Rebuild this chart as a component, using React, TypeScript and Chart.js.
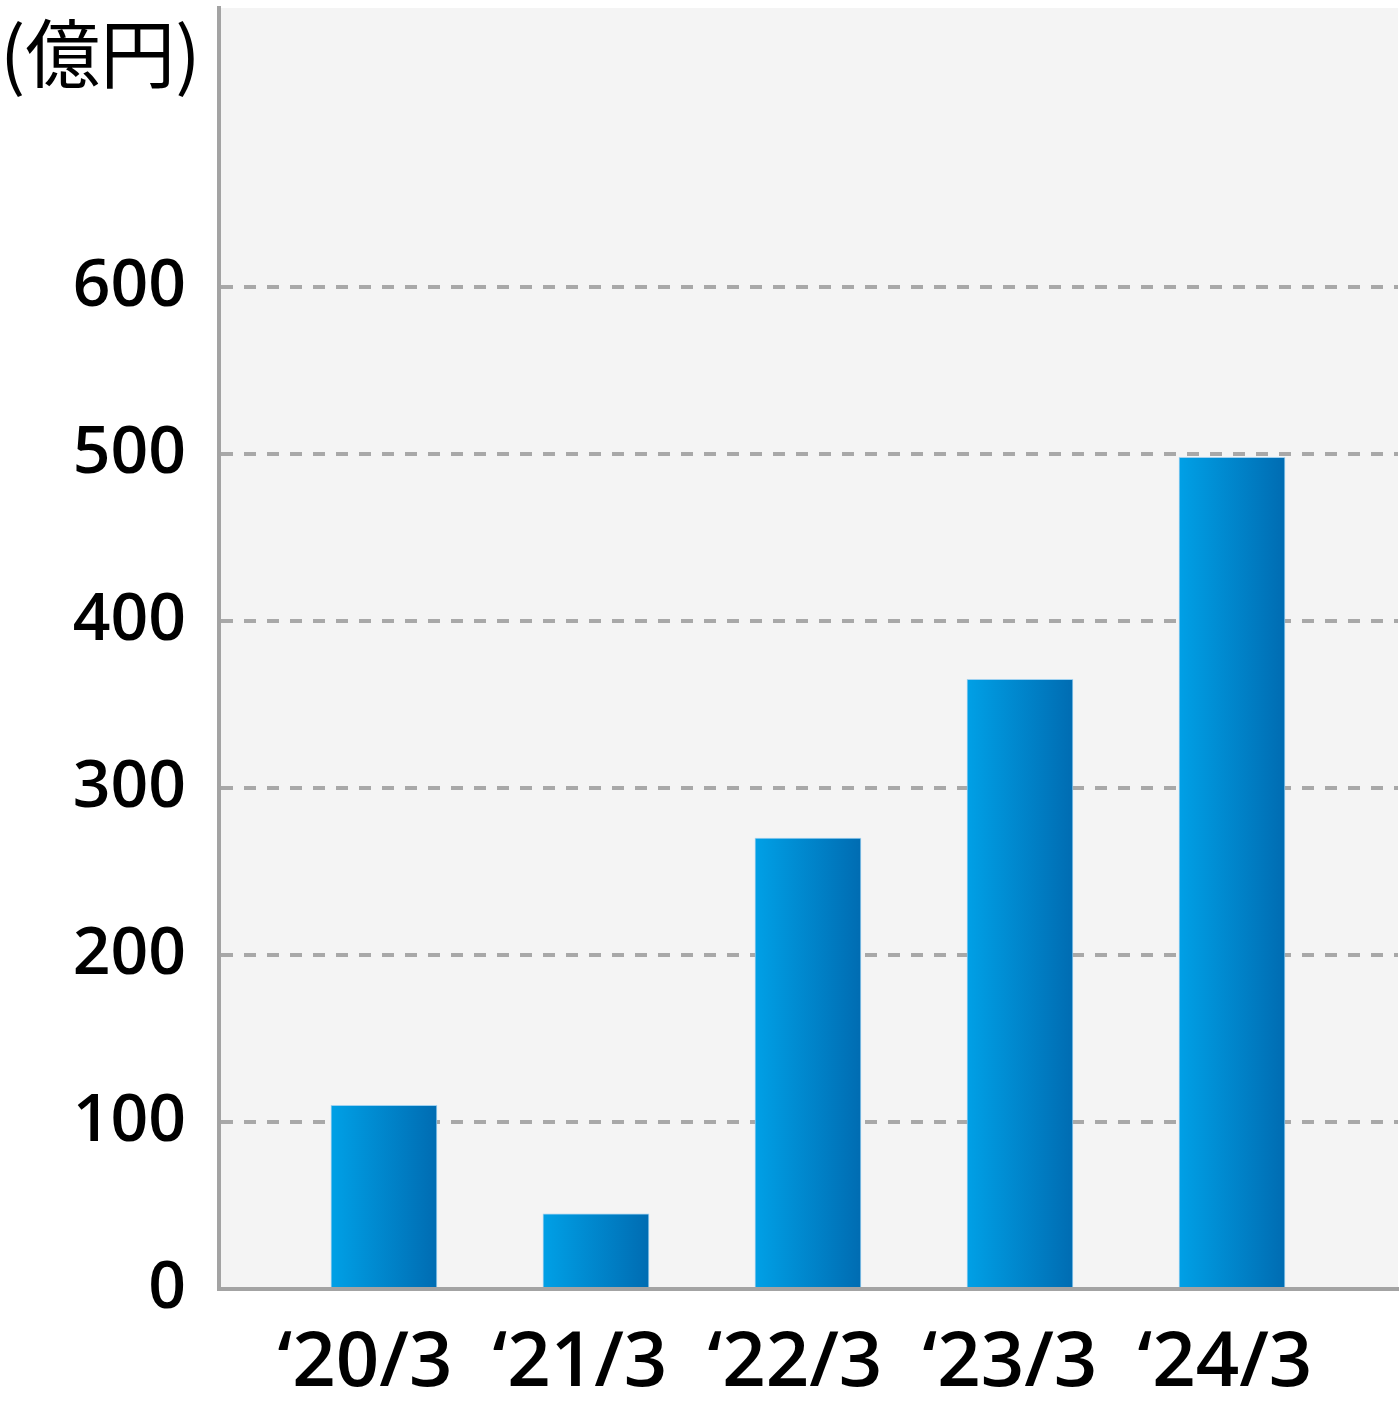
import React, { useEffect, useRef } from "react";
import { Chart, registerables } from "chart.js";

Chart.register(...registerables);

const categories = ["‘20/3", "‘21/3", "‘22/3", "‘23/3", "‘24/3"];
const values = [110, 45, 270, 365, 498];
const yTicks = [0, 100, 200, 300, 400, 500, 600];
const unitLabel = "(億円)";

const W = 1400;
const H = 1414;

export default function App() {
  const ref = useRef<HTMLCanvasElement | null>(null);

  useEffect(() => {
    const canvas = ref.current;
    if (!canvas) return;

    const bgPlugin = {
      id: "bg",
      beforeDraw(chart: any) {
        const { ctx, chartArea } = chart;
        if (!chartArea) return;
        ctx.save();
        ctx.fillStyle = "#f4f4f4";
        ctx.fillRect(chartArea.left, chartArea.top, chartArea.right - chartArea.left, chartArea.bottom - chartArea.top);
        ctx.restore();
      },
      afterDraw(chart: any) {
        const { ctx } = chart;
        ctx.save();
        ctx.fillStyle = "#000";
        ctx.font = '75px "Noto Sans CJK JP"';
        ctx.textAlign = "left";
        ctx.textBaseline = "alphabetic";
        ctx.fillText(unitLabel, 0, 82);
        ctx.restore();
      },
    };

    const zeroPad = (axis: any) => {
      axis.paddingLeft = 0;
      axis.paddingRight = 0;
      axis.paddingTop = 0;
      axis.paddingBottom = 0;
    };

    const chart = new Chart(canvas, {
      type: "bar",
      data: {
        datasets: [
          {
            data: values.map((v, i) => ({ x: i, y: v })),
            xAxisID: "x",
            yAxisID: "y",
            barThickness: 106,
            borderWidth: 1,
            borderColor: "rgba(150,205,240,0.9)",
            backgroundColor: (c: any) => {
              const ch = c.chart;
              const xs = ch.scales && ch.scales.x;
              if (!xs || !ch.chartArea || c.dataIndex === undefined) return "#0088d0";
              const cx = xs.getPixelForValue(c.dataIndex);
              const g = ch.ctx.createLinearGradient(cx - 53, 0, cx + 53, 0);
              g.addColorStop(0, "#00a0e6");
              g.addColorStop(1, "#006cb2");
              return g;
            },
          } as any,
        ],
      },
      options: {
        animation: false,
        responsive: false,
        maintainAspectRatio: false,
        layout: { padding: { top: 8, right: 2, left: 0, bottom: 0 } },
        plugins: {
          legend: { display: false },
          tooltip: { enabled: false },
          title: { display: false },
        },
        scales: {
          x: {
            type: "linear",
            display: false,
            offset: false,
            grid: { offset: false },
            min: -0.778,
            max: 4.783,
            afterFit: zeroPad,
          },
          xl: {
            type: "linear",
            position: "bottom",
            offset: false,
            min: -0.679,
            max: 4.805,
            afterBuildTicks: (axis: any) => {
              axis.ticks = categories.map((_, i) => ({ value: i }));
            },
            afterFit: (axis: any) => {
              axis.height = H - 1289;
              zeroPad(axis);
            },
            grid: { display: true, offset: false, drawOnChartArea: false, drawTicks: false, color: "rgba(0,0,0,0)" },
            border: { display: true, color: "#a3a3a3", width: 4 },
            ticks: {
              autoSkip: false,
              maxRotation: 0,
              minRotation: 0,
              padding: 30,
              color: "#000",
              font: { family: '"Open Sans", "Noto Sans", sans-serif', size: 76, weight: "600" },
              callback: (_v: any, i: number) => categories[i],
            },
          },
          y: {
            type: "linear",
            position: "left",
            min: 0,
            max: 767,
            afterBuildTicks: (axis: any) => {
              axis.ticks = yTicks.map((v) => ({ value: v }));
            },
            afterFit: (axis: any) => {
              axis.width = 219;
              zeroPad(axis);
            },
            grid: { color: "#a8a8a8", lineWidth: 4, drawTicks: false },
            border: { display: true, color: "#a3a3a3", width: 4, dash: [12, 11] },
            ticks: {
              padding: 33,
              color: "#000",
              font: { family: '"Open Sans", "Noto Sans", sans-serif', size: 66, weight: "600" },
              callback: (v: any) => String(v),
            },
          },
        },
      } as any,
      plugins: [bgPlugin],
    });

    return () => chart.destroy();
  }, []);

  return (
    <div style={{ position: "absolute", left: 0, top: 0, width: W, height: H, background: "#fff" }}>
      <canvas ref={ref} width={W} height={H} style={{ display: "block", width: W, height: H }} />
    </div>
  );
}
